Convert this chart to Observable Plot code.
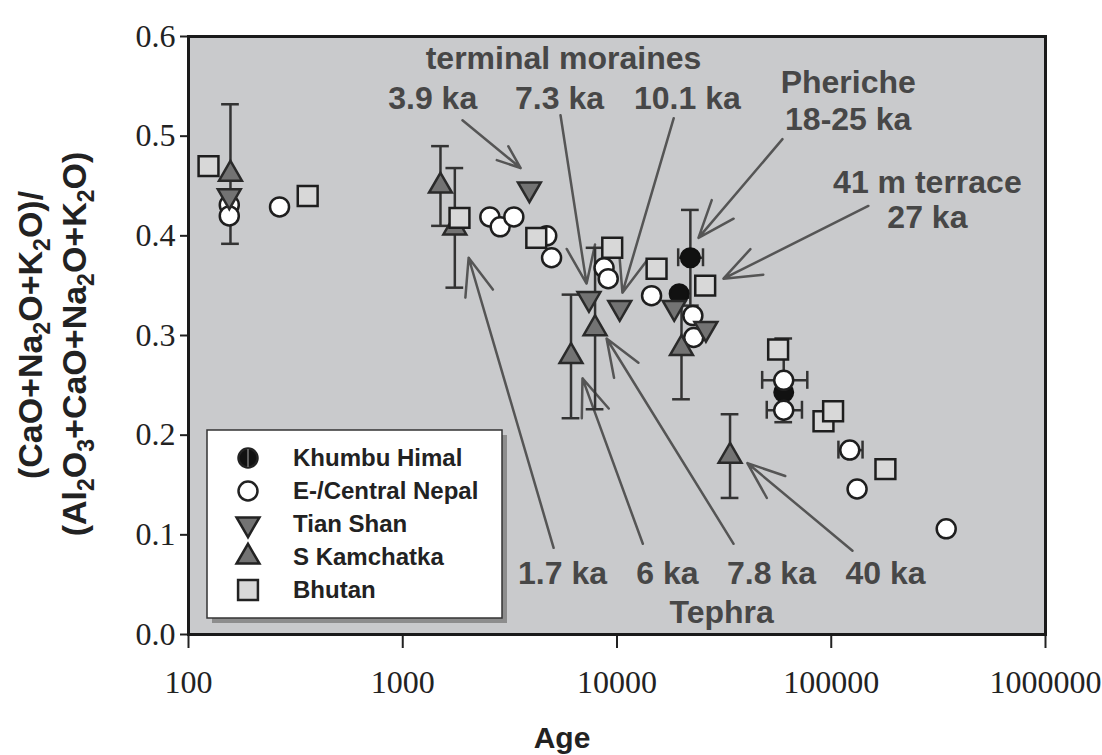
<!DOCTYPE html>
<html><head><meta charset="utf-8">
<script src="https://cdn.jsdelivr.net/npm/d3@7"></script>
<script src="https://cdn.jsdelivr.net/npm/@observablehq/plot@0.6"></script>
<style>body{margin:0;background:#fff}#chart{width:1102px;height:755px}</style>
</head><body><div id="chart"></div>
<script>
// ---- data (age in years, ratio) ----
const khumbu = [
  {age: 22000, v: 0.378, ey: 0.048, xlo: 19300, xhi: 25200},
  {age: 19500, v: 0.342},
  {age: 60000, v: 0.243}
];
const eNepal = [
  {age: 155, v: 0.431}, {age: 155, v: 0.420}, {age: 266, v: 0.429},
  {age: 2550, v: 0.419}, {age: 2850, v: 0.409}, {age: 3300, v: 0.419},
  {age: 4700, v: 0.400}, {age: 4950, v: 0.378},
  {age: 8700, v: 0.368}, {age: 9100, v: 0.357},
  {age: 14500, v: 0.340},
  {age: 22600, v: 0.320}, {age: 22800, v: 0.298},
  {age: 60000, v: 0.255, ey: 0.042, xlo: 47600, xhi: 77300},
  {age: 60000, v: 0.225, xlo: 50000, xhi: 73000},
  {age: 122000, v: 0.185, xlo: 108000, xhi: 140000},
  {age: 132000, v: 0.146},
  {age: 344000, v: 0.106}
];
const tianShan = [
  {age: 155, v: 0.440}, {age: 3900, v: 0.447}, {age: 7400, v: 0.337},
  {age: 10300, v: 0.328}, {age: 18500, v: 0.328}, {age: 26000, v: 0.307}
];
const kamchatka = [
  {age: 157, v: 0.462, ey: 0.070},
  {age: 1500, v: 0.450, ey: 0.040},
  {age: 1750, v: 0.408, ey: 0.060},
  {age: 6100, v: 0.279, ey: 0.062},
  {age: 7900, v: 0.307, ey: 0.081},
  {age: 20000, v: 0.287, ey: 0.051},
  {age: 33700, v: 0.179, ey: 0.042}
];
const bhutan = [
  {age: 124, v: 0.470}, {age: 360, v: 0.440}, {age: 1840, v: 0.418},
  {age: 4200, v: 0.398}, {age: 9500, v: 0.388}, {age: 15300, v: 0.367},
  {age: 25800, v: 0.350}, {age: 56500, v: 0.286}, {age: 92000, v: 0.214},
  {age: 102000, v: 0.224}, {age: 179000, v: 0.166}
];
const xTicks = [100, 1000, 10000, 100000, 1000000];
const yTicks = [0, 0.1, 0.2, 0.3, 0.4, 0.5, 0.6];

// annotations (data coordinates)
const notes = [
  {text: "terminal moraines", age: 5630, v: 0.578},
  {text: "3.9 ka", age: 1380, v: 0.538},
  {text: "7.3 ka", age: 5390, v: 0.538},
  {text: "10.1 ka", age: 21300, v: 0.538},
  {text: "Pheriche", age: 120000, v: 0.554},
  {text: "18-25 ka", age: 120000, v: 0.516},
  {text: "41 m terrace", age: 281000, v: 0.453},
  {text: "27 ka", age: 281000, v: 0.418},
  {text: "1.7 ka", age: 5570, v: 0.061},
  {text: "6 ka", age: 17200, v: 0.061},
  {text: "7.8 ka", age: 52600, v: 0.061},
  {text: "40 ka", age: 179000, v: 0.061},
  {text: "Tephra", age: 30800, v: 0.022}
];
const arrows = [
  {a1: 1900, v1: 0.516, a2: 3550, v2: 0.468},
  {a1: 5450, v1: 0.521, a2: 7210, v2: 0.352},
  {a1: 18400, v1: 0.518, a2: 10600, v2: 0.343},
  {a1: 59200, v1: 0.497, a2: 24000, v2: 0.398},
  {a1: 149000, v1: 0.430, a2: 31400, v2: 0.357},
  {a1: 5060, v1: 0.087, a2: 2030, v2: 0.378},
  {a1: 13200, v1: 0.091, a2: 6900, v2: 0.257},
  {a1: 35000, v1: 0.091, a2: 8940, v2: 0.297},
  {a1: 125600, v1: 0.084, a2: 40600, v2: 0.172}
];
const legendNames = ["Khumbu Himal", "E-/Central Nepal", "Tian Shan", "S Kamchatka", "Bhutan"];

// ---- styles ----
const BG = "#c9cacc", INK = "#222", NOTE = "#474747";
const all = [...khumbu, ...eNepal, ...tianShan, ...kamchatka, ...bhutan];
const withEy = all.filter(d => d.ey != null);
const withEx = all.filter(d => d.xlo != null);
const capF = 1.1, capH = 0.009;
const vCaps = withEy.flatMap(d => [{age: d.age, y: d.v - d.ey}, {age: d.age, y: d.v + d.ey}]);
const hCaps = withEx.flatMap(d => [{x: d.xlo, v: d.v}, {x: d.xhi, v: d.v}]);
const errStyle = {stroke: "#333", strokeWidth: 2.5};

const plot = Plot.plot({
  width: 1102, height: 755,
  marginLeft: 188, marginRight: 57, marginTop: 36, marginBottom: 121,
  style: {fontFamily: "Liberation Serif", fontSize: "32px", color: INK, background: "#fff"},
  x: {type: "log", domain: [100, 1000000]},
  y: {domain: [0, 0.6]},
  marks: [
    Plot.frame({fill: BG}),
    Plot.axisX({ticks: xTicks, tickFormat: d3.format("d"), tickSize: 14, tickPadding: 22,
      fontSize: 32, fontFamily: "Liberation Serif", label: null, strokeWidth: 2}),
    Plot.axisY({ticks: yTicks, tickFormat: d3.format(".1f"), tickSize: 8, tickPadding: 5,
      fontSize: 32, fontFamily: "Liberation Serif", label: null, strokeWidth: 2}),
    Plot.arrow(arrows, {x1: "a1", y1: "v1", x2: "a2", y2: "v2", stroke: "#555",
      strokeWidth: 2.5, headLength: 24, headAngle: 42}),
    Plot.ruleX(withEy, {x: "age", y1: d => d.v - d.ey, y2: d => d.v + d.ey, ...errStyle}),
    Plot.ruleY(vCaps, {y: "y", x1: d => d.age / capF, x2: d => d.age * capF, ...errStyle}),
    Plot.ruleY(withEx, {y: "v", x1: "xlo", x2: "xhi", ...errStyle}),
    Plot.ruleX(hCaps, {x: "x", y1: d => d.v - capH, y2: d => d.v + capH, ...errStyle}),
    Plot.dot(khumbu, {x: "age", y: "v", r: 9.5, fill: "#111", stroke: "#111", strokeWidth: 2}),
    Plot.dot(eNepal, {x: "age", y: "v", r: 9.5, fill: "#fff", stroke: "#1e1e1e", strokeWidth: 2.5}),
    Plot.dot(tianShan, {x: "age", y: "v", r: 8.5, symbol: "triangle", rotate: 180,
      fill: "#737373", stroke: "#2a2a2a", strokeWidth: 2.5}),
    Plot.dot(kamchatka, {x: "age", y: "v", r: 8.5, symbol: "triangle",
      fill: "#737373", stroke: "#2a2a2a", strokeWidth: 2.5}),
    Plot.dot(bhutan, {x: "age", y: "v", r: 11.2, symbol: "square",
      fill: "#d8d8d8", stroke: "#1e1e1e", strokeWidth: 2.5}),
    Plot.text(notes, {x: "age", y: "v", text: "text", fontSize: 32, fontWeight: "bold",
      fontFamily: "Liberation Sans", fill: NOTE}),
    Plot.frame({stroke: "#1a1a1a", strokeWidth: 3})
  ]
});
document.getElementById("chart").appendChild(plot);

// ---- legend & axis titles (pixel layout) ----
const svg = d3.select(plot);
const lg = svg.append("g");
const bx = 207, by = 430, bw = 295, bh = 188;
lg.append("rect").attr("x", bx + 5).attr("y", by + 5).attr("width", bw).attr("height", bh).attr("fill", "#8d8d8d");
lg.append("rect").attr("x", bx).attr("y", by).attr("width", bw).attr("height", bh)
  .attr("fill", "#fff").attr("stroke", "#333").attr("stroke-width", 1.5);
const symbols = [
  {sym: d3.symbolCircle, r: 9.5, fill: "#111", rot: 0},
  {sym: d3.symbolCircle, r: 9.5, fill: "#fff", rot: 0},
  {sym: d3.symbolTriangle, r: 8.5, fill: "#737373", rot: 180},
  {sym: d3.symbolTriangle, r: 8.5, fill: "#737373", rot: 0},
  {sym: d3.symbolSquare, r: 11.2, fill: "#d8d8d8", rot: 0}
];
legendNames.forEach((name, i) => {
  const it = symbols[i];
  const y = by + 28 + i * 33;
  lg.append("path").attr("d", d3.symbol(it.sym, Math.PI * it.r * it.r)())
    .attr("transform", `translate(248,${y}) rotate(${it.rot})`)
    .attr("fill", it.fill).attr("stroke", "#222").attr("stroke-width", 2.5);
  if (i === 0) lg.append("line").attr("x1", 248).attr("x2", 248).attr("y1", y - 9).attr("y2", y + 9)
    .attr("stroke", "#777").attr("stroke-width", 1.5);
  lg.append("text").attr("x", 293).attr("y", y).attr("dy", "0.35em")
    .attr("text-anchor", "start")
    .attr("font-family", "Liberation Sans").attr("font-weight", "bold").attr("font-size", 24)
    .attr("fill", "#222").text(name);
});

function subText(x, y, parts) {
  const t = svg.append("text").attr("transform", `translate(${x},${y}) rotate(-90)`)
    .attr("text-anchor", "middle").attr("font-family", "Liberation Sans")
    .attr("font-weight", "bold").attr("font-size", 34).attr("fill", "#222");
  let shifted = false;
  parts.forEach(p => {
    if (typeof p === "string") {
      const ts = t.append("tspan").text(p);
      if (shifted) { ts.attr("dy", -8); shifted = false; }
    } else {
      t.append("tspan").attr("font-size", 23).attr("dy", 8).text(p.s);
      shifted = true;
    }
  });
  return t;
}
subText(42, 335, ["(CaO+Na", {s: "2"}, "O+K", {s: "2"}, "O)/"]);
subText(86, 344, ["(Al", {s: "2"}, "O", {s: "3"}, "+CaO+Na", {s: "2"}, "O+K", {s: "2"}, "O)"]);
svg.append("text").attr("x", 562).attr("y", 748).attr("text-anchor", "middle")
  .attr("font-family", "Liberation Sans").attr("font-weight", "bold").attr("font-size", 30)
  .attr("fill", "#222").text("Age");
</script>
</body></html>
